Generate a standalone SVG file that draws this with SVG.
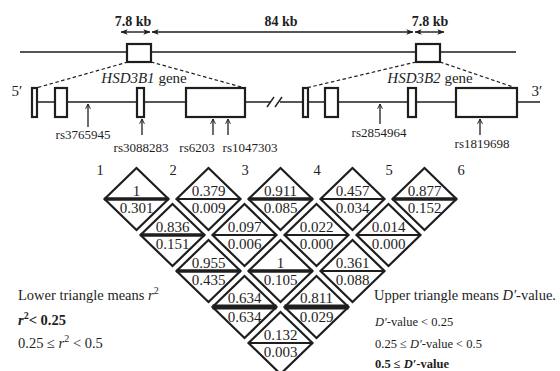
<svg xmlns="http://www.w3.org/2000/svg" xmlns:xlink="http://www.w3.org/1999/xlink" width="560" height="371" viewBox="0 0 560 371">
<style>
  .ln{stroke:#1e1e1e;stroke-width:1.4;fill:none}
  .box{stroke:#1e1e1e;stroke-width:2.2;fill:#fff}
  .dash{stroke:#1e1e1e;stroke-width:1.2;stroke-dasharray:3.5 2.5;fill:none}
  .kb{stroke:#1e1e1e;stroke-width:1.4;fill:none;marker-start:url(#ah);marker-end:url(#ah)}
  .snp{stroke:#1e1e1e;stroke-width:1.3;fill:none;marker-end:url(#sh)}
  .t{font-family:"Liberation Serif","Times New Roman",serif;fill:#1e1e1e}
  .kbt{font-size:14px;font-weight:bold}
  .rs{font-size:13px;text-anchor:middle}
  .gene{font-size:15px;text-anchor:middle}
  .num{font-size:14.5px;text-anchor:middle}
  .v{font-size:15px;text-anchor:middle}
  .dia{stroke:#1e1e1e;stroke-width:2.2;fill:#fff}
  .mid{stroke:#1e1e1e;stroke-width:2}
  .mid.hi{stroke-width:3.4}
  .mid.hi2{stroke-width:5}
  .lg{font-size:14.5px}
  .lgs{font-size:12.5px}
</style>
<defs>
  <marker id="ah" viewBox="0 0 10 10" refX="9.5" refY="5" markerWidth="7" markerHeight="7" markerUnits="userSpaceOnUse" orient="auto-start-reverse">
    <path d="M0,1 L10,5 L0,9 L2.5,5 z" fill="#1e1e1e"/>
  </marker>
  <marker id="sh" viewBox="0 0 10 10" refX="9" refY="5" markerWidth="6" markerHeight="6" markerUnits="userSpaceOnUse" orient="auto">
    <path d="M1,1 L9,5 L1,9" fill="none" stroke="#1e1e1e" stroke-width="1.6"/>
  </marker>
  <polygon id="dm" points="0,-31 32,0 0,31 -32,0"/>
</defs>
<rect width="560" height="371" fill="#fff"/>

<!-- distance scale -->
<g id="scale">
  <line class="kb" x1="121" y1="32" x2="150" y2="32"/>
  <line class="kb" x1="152" y1="32" x2="413" y2="32"/>
  <line class="kb" x1="415" y1="32" x2="444" y2="32"/>
  <text class="t kbt" x="133" y="26" text-anchor="middle">7.8 kb</text>
  <text class="t kbt" x="281" y="26" text-anchor="middle">84 kb</text>
  <text class="t kbt" x="430" y="26" text-anchor="middle">7.8 kb</text>
</g>

<!-- chromosome line with genes -->
<g id="chromosome">
  <line class="ln" x1="20" y1="52" x2="516" y2="52"/>
  <rect class="box" x="127" y="44" width="24" height="18"/>
  <rect class="box" x="416" y="44" width="24" height="18"/>
</g>

<g id="connectors">
  <line class="dash" x1="128" y1="62" x2="36" y2="88"/>
  <line class="dash" x1="151" y1="62" x2="245" y2="88"/>
  <line class="dash" x1="416" y1="62" x2="306" y2="88"/>
  <line class="dash" x1="440" y1="62" x2="516" y2="88"/>
  <line class="snp" x1="88" y1="127" x2="88" y2="104"/>
  <line class="snp" x1="142" y1="135" x2="142" y2="119"/>
  <line class="snp" x1="213" y1="135" x2="213" y2="119"/>
  <line class="snp" x1="228" y1="135" x2="228" y2="119"/>
  <line class="snp" x1="380" y1="124" x2="380" y2="104"/>
  <line class="snp" x1="480" y1="135" x2="480" y2="119"/>
</g>

<!-- gene structures -->
<g id="gene-line">
  <line class="ln" x1="32" y1="102" x2="270" y2="102"/>
  <line class="ln" x1="280" y1="102" x2="540" y2="102"/>
  <line class="ln" x1="267" y1="107" x2="274" y2="97"/>
  <line class="ln" x1="275" y1="107" x2="282" y2="97"/>
  <text class="t gene" x="17" y="96">5′</text>
  <text class="t gene" x="537" y="96">3′</text>
</g>
<g id="HSD3B1">
  <rect class="box" x="32" y="88" width="5" height="29"/>
  <rect class="box" x="55" y="88" width="12" height="29"/>
  <rect class="box" x="137" y="88" width="7" height="29"/>
  <rect class="box" x="186" y="88" width="59" height="29"/>
  <text class="t gene" x="144" y="83"><tspan font-style="italic">HSD3B1</tspan> gene</text>
</g>
<g id="HSD3B2">
  <rect class="box" x="303" y="88" width="5" height="29"/>
  <rect class="box" x="325" y="88" width="13" height="29"/>
  <rect class="box" x="408" y="88" width="8" height="29"/>
  <rect class="box" x="456" y="88" width="61" height="29"/>
  <text class="t gene" x="430" y="83"><tspan font-style="italic">HSD3B2</tspan> gene</text>
</g>

<!-- SNP labels -->
<g id="snps">
  <text class="t rs" x="83" y="139">rs3765945</text>
  <text class="t rs" x="141" y="152">rs3088283</text>
  <text class="t rs" x="197" y="152">rs6203</text>
  <text class="t rs" x="250" y="152">rs1047303</text>
  <text class="t rs" x="379" y="137">rs2854964</text>
  <text class="t rs" x="482" y="148">rs1819698</text>
</g>

<!-- SNP indices -->
<g id="indices">
  <text class="t num" x="100" y="175">1</text>
  <text class="t num" x="173" y="175">2</text>
  <text class="t num" x="245" y="175">3</text>
  <text class="t num" x="317" y="175">4</text>
  <text class="t num" x="389" y="175">5</text>
  <text class="t num" x="461" y="175">6</text>
</g>

<!-- LD diamonds -->
<g id="ld-1-2" transform="translate(136.5,199)"><use href="#dm" class="dia"/><line class="mid hi" x1="-32" y1="0" x2="32" y2="0"/><text class="t v" y="-3">1</text><text class="t v" y="14">0.301</text></g>
<g id="ld-2-3" transform="translate(208.5,199)"><use href="#dm" class="dia"/><line class="mid" x1="-32" y1="0" x2="32" y2="0"/><text class="t v" y="-3">0.379</text><text class="t v" y="14">0.009</text></g>
<g id="ld-3-4" transform="translate(280.5,199)"><use href="#dm" class="dia"/><line class="mid hi" x1="-32" y1="0" x2="32" y2="0"/><text class="t v" y="-3">0.911</text><text class="t v" y="14">0.085</text></g>
<g id="ld-4-5" transform="translate(352.5,199)"><use href="#dm" class="dia"/><line class="mid" x1="-32" y1="0" x2="32" y2="0"/><text class="t v" y="-3">0.457</text><text class="t v" y="14">0.034</text></g>
<g id="ld-5-6" transform="translate(424.5,199)"><use href="#dm" class="dia"/><line class="mid hi" x1="-32" y1="0" x2="32" y2="0"/><text class="t v" y="-3">0.877</text><text class="t v" y="14">0.152</text></g>

<g id="ld-1-3" transform="translate(172.5,235)"><use href="#dm" class="dia"/><line class="mid hi" x1="-32" y1="0" x2="32" y2="0"/><text class="t v" y="-3">0.836</text><text class="t v" y="14">0.151</text></g>
<g id="ld-2-4" transform="translate(244.5,235)"><use href="#dm" class="dia"/><line class="mid" x1="-32" y1="0" x2="32" y2="0"/><text class="t v" y="-3">0.097</text><text class="t v" y="14">0.006</text></g>
<g id="ld-3-5" transform="translate(316.5,235)"><use href="#dm" class="dia"/><line class="mid" x1="-32" y1="0" x2="32" y2="0"/><text class="t v" y="-3">0.022</text><text class="t v" y="14">0.000</text></g>
<g id="ld-4-6" transform="translate(388.5,235)"><use href="#dm" class="dia"/><line class="mid" x1="-32" y1="0" x2="32" y2="0"/><text class="t v" y="-3">0.014</text><text class="t v" y="14">0.000</text></g>

<g id="ld-1-4" transform="translate(208.5,271)"><use href="#dm" class="dia"/><line class="mid hi" x1="-32" y1="0" x2="32" y2="0"/><text class="t v" y="-3">0.955</text><text class="t v" y="14">0.435</text></g>
<g id="ld-2-5" transform="translate(280.5,271)"><use href="#dm" class="dia"/><line class="mid hi" x1="-32" y1="0" x2="32" y2="0"/><text class="t v" y="-3">1</text><text class="t v" y="14">0.105</text></g>
<g id="ld-3-6" transform="translate(352.5,271)"><use href="#dm" class="dia"/><line class="mid" x1="-32" y1="0" x2="32" y2="0"/><text class="t v" y="-3">0.361</text><text class="t v" y="14">0.088</text></g>

<g id="ld-1-5" transform="translate(244.5,307)"><use href="#dm" class="dia"/><line class="mid hi2" x1="-32" y1="0" x2="32" y2="0"/><text class="t v" y="-4">0.634</text><text class="t v" y="15">0.634</text></g>
<g id="ld-2-6" transform="translate(316.5,307)"><use href="#dm" class="dia"/><line class="mid hi2" x1="-32" y1="0" x2="32" y2="0"/><text class="t v" y="-4">0.811</text><text class="t v" y="15">0.029</text></g>

<g id="ld-1-6" transform="translate(280.5,343)"><use href="#dm" class="dia"/><line class="mid" x1="-32" y1="0" x2="32" y2="0"/><text class="t v" y="-3">0.132</text><text class="t v" y="14">0.003</text></g>

<!-- legends -->
<g id="legend-lower">
  <text class="t lg" x="18" y="300">Lower triangle means <tspan font-style="italic">r</tspan><tspan font-size="10" dy="-6">2</tspan></text>
  <text class="t lg" x="18" y="325" font-weight="bold"><tspan font-style="italic">r</tspan><tspan font-size="10" dy="-6">2</tspan><tspan dy="6">&lt; 0.25</tspan></text>
  <text class="t lg" x="18" y="348">0.25 ≤ <tspan font-style="italic">r</tspan><tspan font-size="10" dy="-6">2</tspan><tspan dy="6"> &lt; 0.5</tspan></text>
</g>
<g id="legend-upper">
  <text class="t lg" x="374" y="300">Upper triangle means <tspan font-style="italic">D′</tspan>-value.</text>
  <text class="t lgs" x="375" y="326"><tspan font-style="italic">D′</tspan>-value &lt; 0.25</text>
  <text class="t lgs" x="375" y="348">0.25 ≤ <tspan font-style="italic">D′</tspan>-value &lt; 0.5</text>
  <text class="t lgs" x="375" y="368" font-weight="bold">0.5 ≤ <tspan font-style="italic">D′</tspan>-value</text>
</g>
</svg>
